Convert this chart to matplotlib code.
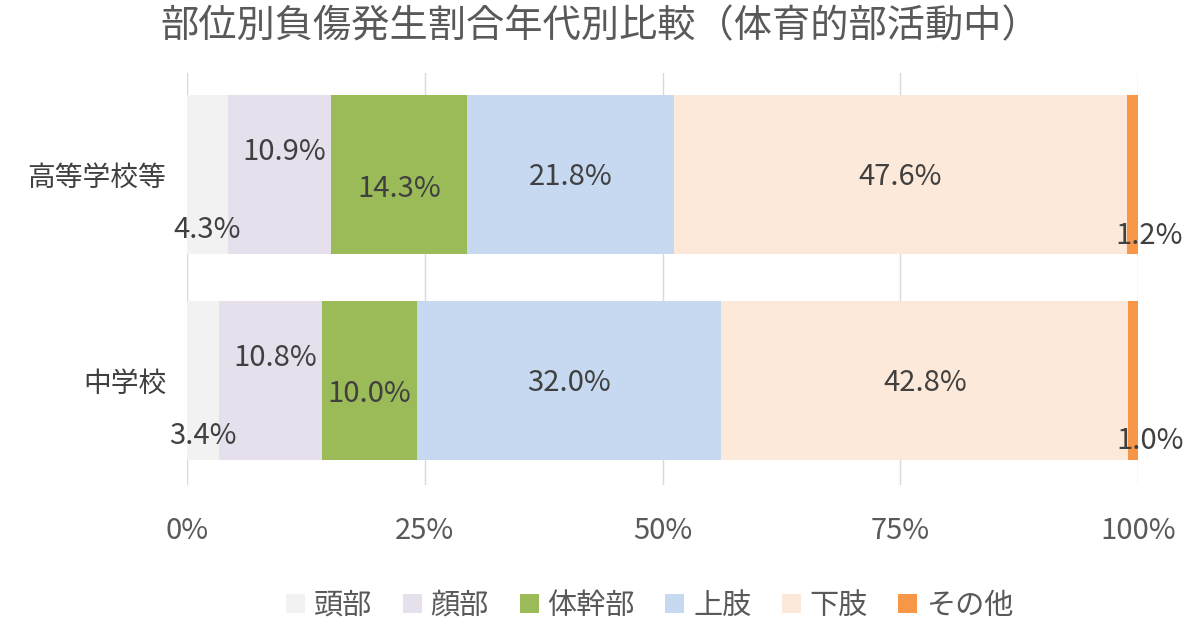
import matplotlib
matplotlib.use("Agg")
import matplotlib.pyplot as plt
import numpy as np

plt.rcParams['font.family'] = ['Noto Sans CJK JP', 'DejaVu Sans']

categories = ['中学校', '高等学校等']
series_names = ['頭部', '顔部', '体幹部', '上肢', '下肢', 'その他']
values = {
    '頭部':   [3.4, 4.3],
    '顔部':   [10.8, 10.9],
    '体幹部': [10.0, 14.3],
    '上肢':   [32.0, 21.8],
    '下肢':   [42.8, 47.6],
    'その他': [1.0, 1.2],
}
colors = ['#F2F2F2', '#E6E0EC', '#9BBB59', '#C6D9F1', '#FDE9D9', '#F79646']
title = '部位別負傷発生割合年代別比較（体育的部活動中）'
xticks = [0, 25, 50, 75, 100]
xticklabels = ['0%', '25%', '50%', '75%', '100%']

# label offsets (points) per series: (dx, dy) ; dy positive = up
label_offsets = {
    '頭部': (0, -38),
    '顔部': (3, 18),
    '体幹部': (0, -8),
    '上肢': (0, 0),
    '下肢': (0, 0),
    'その他': (12, -42),
}

fig = plt.figure(figsize=(12, 6.28), dpi=100)
ax = fig.add_axes([187/1200, 1-485/628, (1138-187)/1200, (485-73)/628])

y = np.arange(len(categories))
left = np.zeros(len(categories))
handles = []
for name, c in zip(series_names, colors):
    vals = np.array(values[name])
    totals = np.array([sum(values[n][i] for n in series_names) for i in range(len(categories))])
    w = vals / totals * 100
    b = ax.barh(y, w, left=left, height=0.775, color=c, label=name, zorder=2)
    handles.append(b)
    dx, dy = label_offsets[name]
    for i in range(len(categories)):
        ax.annotate(f'{vals[i]:.1f}%', xy=(left[i] + w[i]/2, y[i]),
                    xytext=(dx, dy - 2), textcoords='offset points',
                    ha='center', va='center', fontsize=21, color='#404040', zorder=5)
    left = left + w

ax.set_xlim(0, 100)
ax.set_ylim(-0.51, 1.495)
ax.set_xticks(xticks)
ax.set_xticklabels(xticklabels)
ax.set_yticks(y)
ax.set_yticklabels(categories)
ax.tick_params(axis='x', length=0, pad=22, labelsize=21, labelcolor='#595959')
ax.tick_params(axis='y', length=0, pad=15, labelsize=20, labelcolor='#404040')
ax.grid(axis='x', color='#D9D9D9', linewidth=1.0, zorder=0)
ax.set_axisbelow(True)
for s in ax.spines.values():
    s.set_visible(False)

fig.text(0.5, 1-27/628, title, ha='center', va='center', fontsize=27.5, color='#595959')

fig.legend(handles=handles, labels=series_names, loc='center',
           bbox_to_anchor=(650/1200, 1-606/628), ncol=6, frameon=False,
           fontsize=21, labelcolor='#595959', handlelength=0.65, handleheight=0.65,
           handletextpad=0.3, columnspacing=1.05)

fig.savefig('out.png', dpi=100)
